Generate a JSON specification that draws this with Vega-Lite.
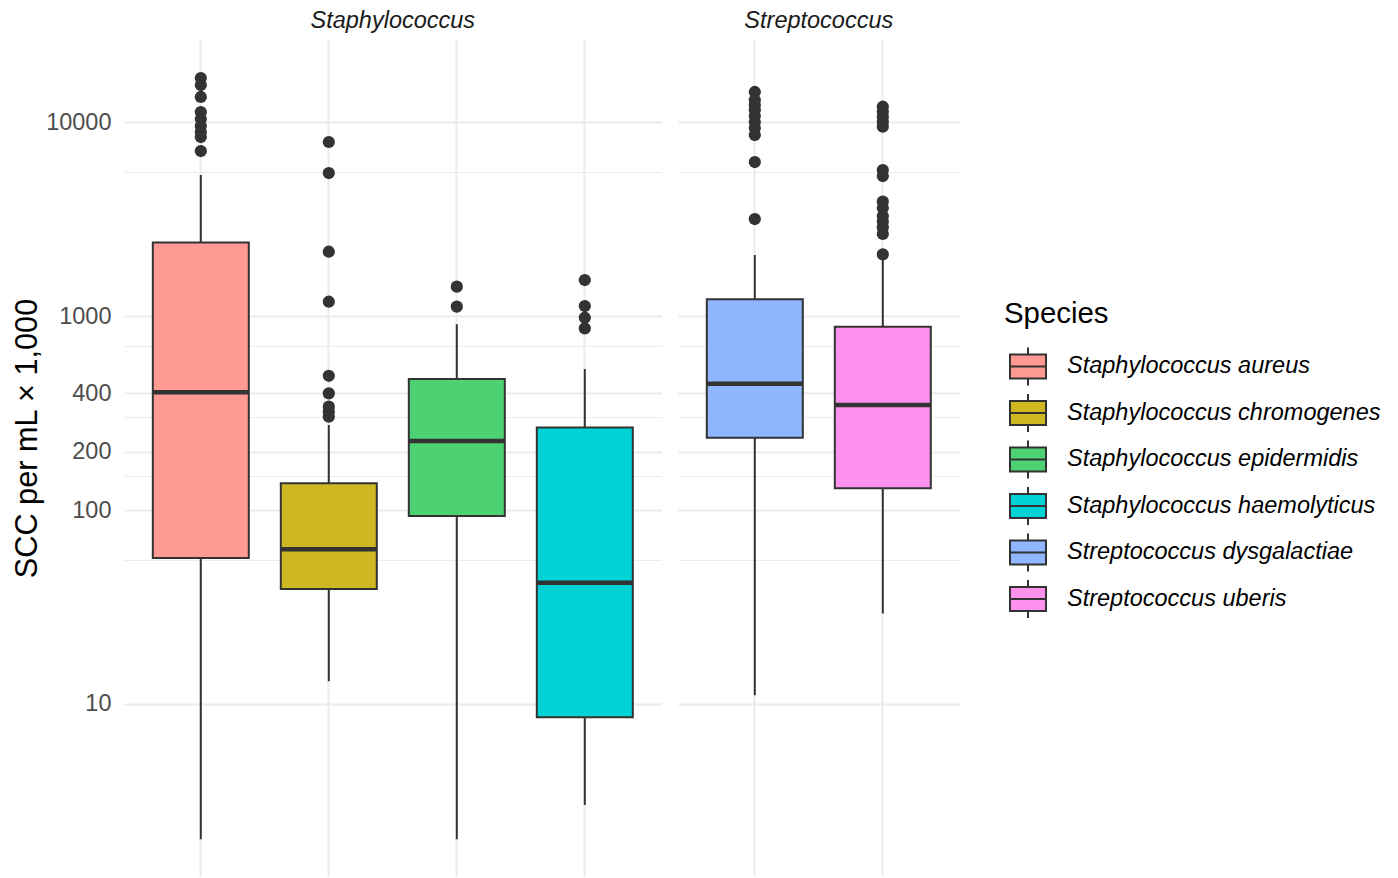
{
  "$schema": "https://vega.github.io/schema/vega-lite/v6.json",
  "background": "white",
  "padding": {"left": 11, "top": 8, "right": 5, "bottom": 0},
  "config": {
    "view": {"stroke": null},
    "font": "Liberation Sans"
  },
  "datasets": {
    "boxes": [
      {"genus": "Staphylococcus", "species": "Staphylococcus aureus", "lower": 2.01, "q1": 56.5, "median": 405, "q3": 2395, "upper": 5333},
      {"genus": "Staphylococcus", "species": "Staphylococcus chromogenes", "lower": 13.1, "q1": 39.2, "median": 62.8, "q3": 137.5, "upper": 274},
      {"genus": "Staphylococcus", "species": "Staphylococcus epidermidis", "lower": 2.01, "q1": 93.1, "median": 226.9, "q3": 473, "upper": 906},
      {"genus": "Staphylococcus", "species": "Staphylococcus haemolyticus", "lower": 3.02, "q1": 8.54, "median": 42.2, "q3": 266.6, "upper": 533},
      {"genus": "Streptococcus", "species": "Streptococcus dysgalactiae", "lower": 11.1, "q1": 235.9, "median": 448, "q3": 1219, "upper": 2061},
      {"genus": "Streptococcus", "species": "Streptococcus uberis", "lower": 29.3, "q1": 129.3, "median": 347.6, "q3": 881, "upper": 1990}
    ],
    "outliers": [
      {"genus": "Staphylococcus", "species": "Staphylococcus aureus", "value": 16860},
      {"genus": "Staphylococcus", "species": "Staphylococcus aureus", "value": 15510},
      {"genus": "Staphylococcus", "species": "Staphylococcus aureus", "value": 13460},
      {"genus": "Staphylococcus", "species": "Staphylococcus aureus", "value": 11260},
      {"genus": "Staphylococcus", "species": "Staphylococcus aureus", "value": 10360},
      {"genus": "Staphylococcus", "species": "Staphylococcus aureus", "value": 9537},
      {"genus": "Staphylococcus", "species": "Staphylococcus aureus", "value": 8881},
      {"genus": "Staphylococcus", "species": "Staphylococcus aureus", "value": 8370},
      {"genus": "Staphylococcus", "species": "Staphylococcus aureus", "value": 7088},
      {"genus": "Staphylococcus", "species": "Staphylococcus chromogenes", "value": 7888},
      {"genus": "Staphylococcus", "species": "Staphylococcus chromogenes", "value": 5458},
      {"genus": "Staphylococcus", "species": "Staphylococcus chromogenes", "value": 2145},
      {"genus": "Staphylococcus", "species": "Staphylococcus chromogenes", "value": 1185},
      {"genus": "Staphylococcus", "species": "Staphylococcus chromogenes", "value": 492},
      {"genus": "Staphylococcus", "species": "Staphylococcus chromogenes", "value": 399.5},
      {"genus": "Staphylococcus", "species": "Staphylococcus chromogenes", "value": 341},
      {"genus": "Staphylococcus", "species": "Staphylococcus chromogenes", "value": 321},
      {"genus": "Staphylococcus", "species": "Staphylococcus chromogenes", "value": 302.7},
      {"genus": "Staphylococcus", "species": "Staphylococcus epidermidis", "value": 1416},
      {"genus": "Staphylococcus", "species": "Staphylococcus epidermidis", "value": 1117},
      {"genus": "Staphylococcus", "species": "Staphylococcus haemolyticus", "value": 1533},
      {"genus": "Staphylococcus", "species": "Staphylococcus haemolyticus", "value": 1126},
      {"genus": "Staphylococcus", "species": "Staphylococcus haemolyticus", "value": 980},
      {"genus": "Staphylococcus", "species": "Staphylococcus haemolyticus", "value": 864},
      {"genus": "Streptococcus", "species": "Streptococcus dysgalactiae", "value": 14280},
      {"genus": "Streptococcus", "species": "Streptococcus dysgalactiae", "value": 12990},
      {"genus": "Streptococcus", "species": "Streptococcus dysgalactiae", "value": 12230},
      {"genus": "Streptococcus", "species": "Streptococcus dysgalactiae", "value": 11530},
      {"genus": "Streptococcus", "species": "Streptococcus dysgalactiae", "value": 10740},
      {"genus": "Streptococcus", "species": "Streptococcus dysgalactiae", "value": 10000},
      {"genus": "Streptococcus", "species": "Streptococcus dysgalactiae", "value": 9314},
      {"genus": "Streptococcus", "species": "Streptococcus dysgalactiae", "value": 8570},
      {"genus": "Streptococcus", "species": "Streptococcus dysgalactiae", "value": 6220},
      {"genus": "Streptococcus", "species": "Streptococcus dysgalactiae", "value": 3162},
      {"genus": "Streptococcus", "species": "Streptococcus uberis", "value": 11990},
      {"genus": "Streptococcus", "species": "Streptococcus uberis", "value": 11300},
      {"genus": "Streptococcus", "species": "Streptococcus uberis", "value": 10650},
      {"genus": "Streptococcus", "species": "Streptococcus uberis", "value": 10030},
      {"genus": "Streptococcus", "species": "Streptococcus uberis", "value": 9459},
      {"genus": "Streptococcus", "species": "Streptococcus uberis", "value": 5656},
      {"genus": "Streptococcus", "species": "Streptococcus uberis", "value": 5267},
      {"genus": "Streptococcus", "species": "Streptococcus uberis", "value": 3884},
      {"genus": "Streptococcus", "species": "Streptococcus uberis", "value": 3603},
      {"genus": "Streptococcus", "species": "Streptococcus uberis", "value": 3278},
      {"genus": "Streptococcus", "species": "Streptococcus uberis", "value": 3063},
      {"genus": "Streptococcus", "species": "Streptococcus uberis", "value": 2866},
      {"genus": "Streptococcus", "species": "Streptococcus uberis", "value": 2647},
      {"genus": "Streptococcus", "species": "Streptococcus uberis", "value": 2080}
    ]
  },
  "spacing": 16,
  "resolve": {"scale": {"color": "shared"}, "legend": {"color": "shared"}},
  "hconcat": [
    {
      "width": 537.6,
      "height": 837,
      "title": {"text": "Staphylococcus", "fontStyle": "italic", "fontWeight": "normal", "fontSize": 23.5, "color": "#1a1a1a", "anchor": "middle", "offset": 8, "font": "Liberation Sans"},
      "encoding": {
        "x": {"field": "species", "type": "nominal", "scale": {"domain": ["Staphylococcus aureus", "Staphylococcus chromogenes", "Staphylococcus epidermidis", "Staphylococcus haemolyticus"], "paddingInner": 0.25, "paddingOuter": 0.225},
          "axis": {"title": null, "labels": false, "ticks": false, "domain": false, "grid": true, "gridColor": "#ebebeb", "gridWidth": 2, "bandPosition": 0.5}}
      },
      "layer": [
        {
          "data": {"name": "boxes"},
          "transform": [{"filter": "datum.genus === 'Staphylococcus'"}],
          "mark": {"type": "rule", "color": "#333333", "strokeWidth": 2},
          "encoding": {
            "y": {"field": "lower", "type": "quantitative", "scale": {"type": "log", "domain": [1.283, 26470], "nice": false, "zero": false},
              "axis": {"title": "SCC per mL × 1,000", "titleFontSize": 30.7, "titleFontWeight": "normal", "titleColor": "#000000", "titleFont": "Liberation Sans", "titlePadding": 3, "titleY": 398,
                "values": [10, 55, 100, 150, 200, 300, 400, 700, 1000, 5500, 10000],
                "format": "d",
                "labelExpr": "indexof([10,100,200,400,1000,10000], datum.value) >= 0 ? datum.label : ''",
                "labelFontSize": 23.5, "labelColor": "#4d4d4d", "labelFont": "Liberation Sans", "labelPadding": 13, "labelOverlap": false, "labelFlush": false,
                "ticks": false, "domain": false, "grid": true, "gridColor": "#ebebeb",
                "gridWidth": {"condition": {"test": "indexof([55,150,300,700,5500], datum.value) >= 0", "value": 1.2}, "value": 2}}},
            "y2": {"field": "upper"}
          }
        },
        {
          "data": {"name": "boxes"},
          "transform": [{"filter": "datum.genus === 'Staphylococcus'"}],
          "mark": {"type": "bar", "stroke": "#333333", "strokeWidth": 2, "opacity": 1},
          "encoding": {
            "y": {"field": "q1", "type": "quantitative", "title": "SCC per mL × 1,000"},
            "y2": {"field": "q3"},
            "color": {"field": "species", "type": "nominal",
              "scale": {"domain": ["Staphylococcus aureus", "Staphylococcus chromogenes", "Staphylococcus epidermidis", "Staphylococcus haemolyticus", "Streptococcus dysgalactiae", "Streptococcus uberis"],
                        "range": ["#FF9A93", "#CDB821", "#4DD273", "#00D3D6", "#8FB6FF", "#FF91EE"]},
              "legend": {"title": "Species", "orient": "none", "legendX": 880, "legendY": 260, "padding": 0,
                "titleFontSize": 29.4, "titleFontWeight": "normal", "titleColor": "#000000", "titleFont": "Liberation Sans", "titlePadding": 17,
                "labelFontSize": 23.5, "labelFontStyle": "italic", "labelColor": "#000000", "labelFont": "Liberation Sans", "labelOffset": 19, "labelLimit": 500,
                "symbolType": "M-0.947,-0.632H0.947V0.632H-0.947Z M-0.947,0H0.947 M0,-1V-0.632 M0,0.632V1",
                "symbolSize": 1444, "symbolStrokeColor": "#333333", "symbolStrokeWidth": 2, "symbolOpacity": 1, "symbolOffset": 4, "rowPadding": 0.5}}
          }
        },
        {
          "data": {"name": "boxes"},
          "transform": [{"filter": "datum.genus === 'Staphylococcus'"}],
          "mark": {"type": "tick", "color": "#333333", "thickness": 4.5, "size": 96, "orient": "horizontal", "opacity": 1},
          "encoding": {
            "y": {"field": "median", "type": "quantitative", "title": "SCC per mL × 1,000"}
          }
        },
        {
          "data": {"name": "outliers"},
          "transform": [{"filter": "datum.genus === 'Staphylococcus'"}],
          "mark": {"type": "point", "filled": true, "shape": "circle", "color": "#333333", "size": 150, "opacity": 1},
          "encoding": {
            "y": {"field": "value", "type": "quantitative", "title": "SCC per mL × 1,000"}
          }
        }
      ]
    },
    {
      "width": 281.6,
      "height": 837,
      "title": {"text": "Streptococcus", "fontStyle": "italic", "fontWeight": "normal", "fontSize": 23.5, "color": "#1a1a1a", "anchor": "middle", "offset": 8, "font": "Liberation Sans"},
      "encoding": {
        "x": {"field": "species", "type": "nominal", "scale": {"domain": ["Streptococcus dysgalactiae", "Streptococcus uberis"], "paddingInner": 0.25, "paddingOuter": 0.225},
          "axis": {"title": null, "labels": false, "ticks": false, "domain": false, "grid": true, "gridColor": "#ebebeb", "gridWidth": 2, "bandPosition": 0.5}}
      },
      "layer": [
        {
          "data": {"name": "boxes"},
          "transform": [{"filter": "datum.genus === 'Streptococcus'"}],
          "mark": {"type": "rule", "color": "#333333", "strokeWidth": 2},
          "encoding": {
            "y": {"field": "lower", "type": "quantitative", "scale": {"type": "log", "domain": [1.283, 26470], "nice": false, "zero": false},
              "axis": {"title": null, "labels": false, "ticks": false, "domain": false, "grid": true, "gridColor": "#ebebeb",
                "values": [10, 55, 100, 150, 200, 300, 400, 700, 1000, 5500, 10000],
                "gridWidth": {"condition": {"test": "indexof([55,150,300,700,5500], datum.value) >= 0", "value": 1.2}, "value": 2}}},
            "y2": {"field": "upper"}
          }
        },
        {
          "data": {"name": "boxes"},
          "transform": [{"filter": "datum.genus === 'Streptococcus'"}],
          "mark": {"type": "bar", "stroke": "#333333", "strokeWidth": 2, "opacity": 1},
          "encoding": {
            "y": {"field": "q1", "type": "quantitative", "title": null},
            "y2": {"field": "q3"},
            "color": {"field": "species", "type": "nominal"}
          }
        },
        {
          "data": {"name": "boxes"},
          "transform": [{"filter": "datum.genus === 'Streptococcus'"}],
          "mark": {"type": "tick", "color": "#333333", "thickness": 4.5, "size": 96, "orient": "horizontal", "opacity": 1},
          "encoding": {
            "y": {"field": "median", "type": "quantitative", "title": null}
          }
        },
        {
          "data": {"name": "outliers"},
          "transform": [{"filter": "datum.genus === 'Streptococcus'"}],
          "mark": {"type": "point", "filled": true, "shape": "circle", "color": "#333333", "size": 150, "opacity": 1},
          "encoding": {
            "y": {"field": "value", "type": "quantitative", "title": null}
          }
        }
      ]
    }
  ]
}
